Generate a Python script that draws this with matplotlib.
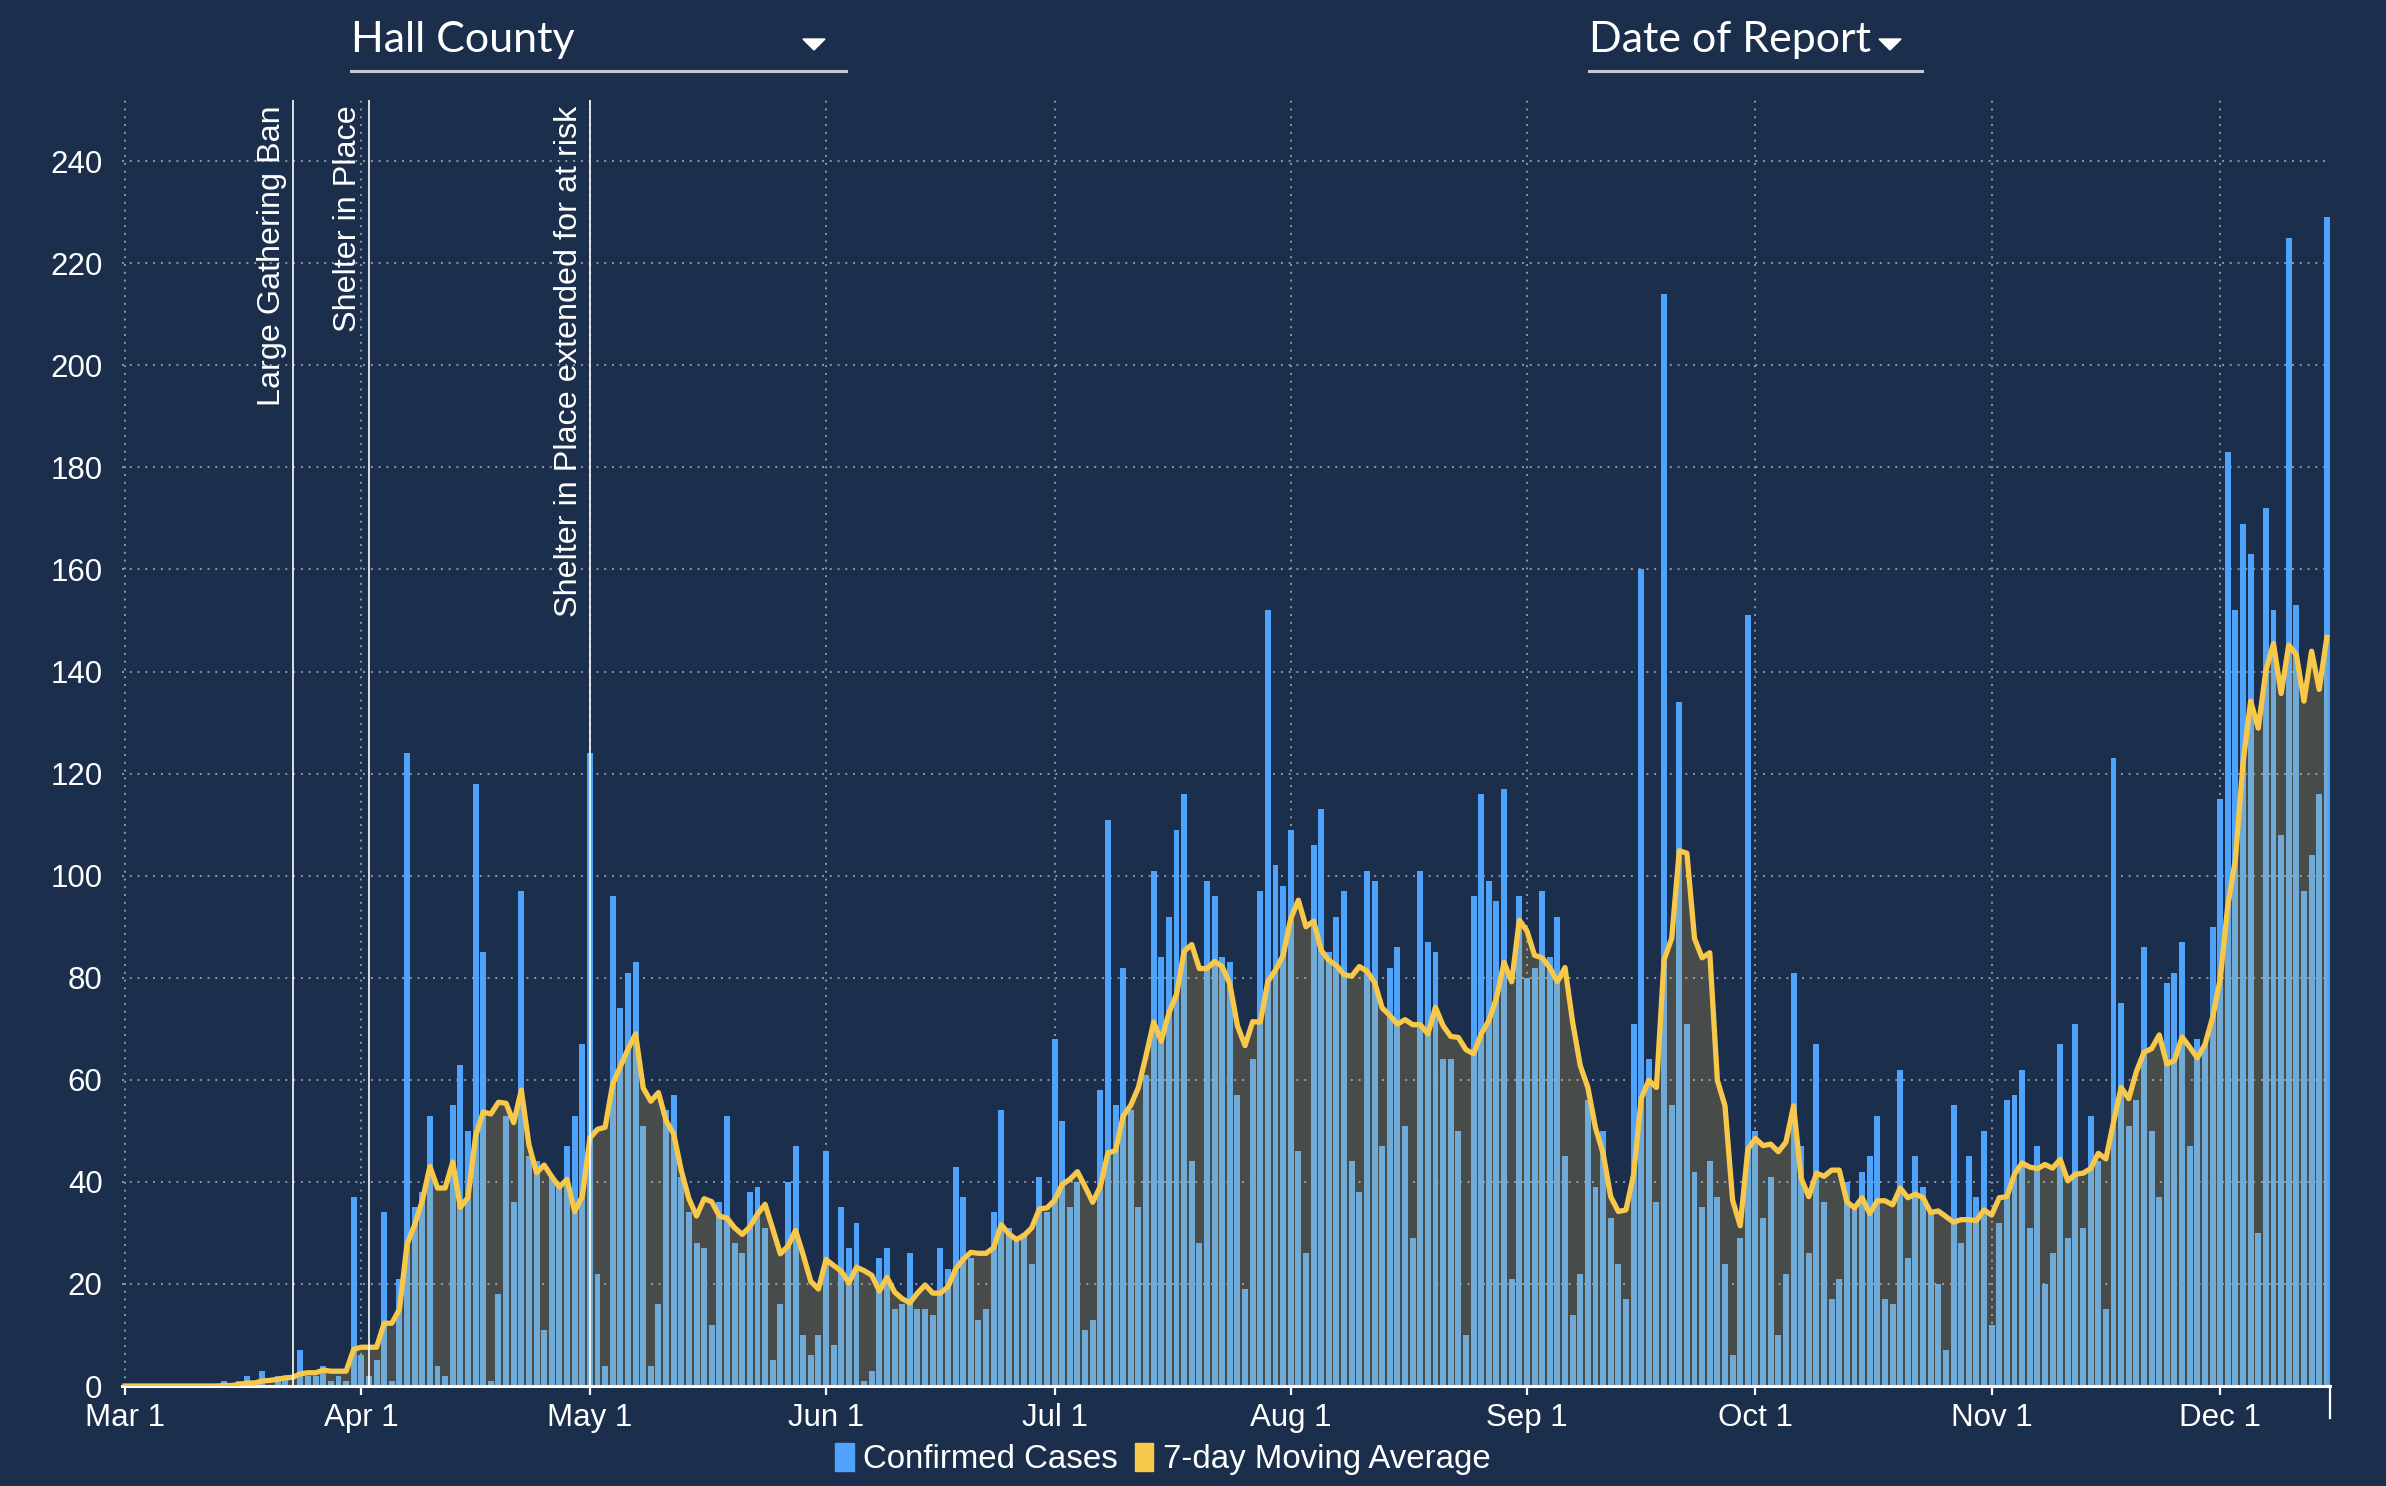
import numpy as np
import pandas as pd
import matplotlib
matplotlib.use("Agg")
import matplotlib.pyplot as plt
import matplotlib.dates as mdates
from matplotlib.patches import Patch, Polygon
from matplotlib.lines import Line2D

# daily confirmed cases, Mar 1 .. Dec 15
cases = [
    0, 0, 0, 0, 0, 0, 0, 0, 0, 0,
    0, 0, 0, 1, 0, 1, 2, 0, 3, 0,
    2, 2, 0, 7, 2, 2, 4, 1, 2, 1,
    37, 6, 2, 5, 34, 1, 21, 124, 35, 38,
    53, 4, 2, 55, 63, 50, 118, 85, 1, 18,
    53, 36, 97, 45, 44, 11, 41, 39, 47, 53,
    67, 124, 22, 4, 96, 74, 81, 83, 51, 4,
    16, 54, 57, 41, 34, 28, 27, 12, 36, 53,
    28, 26, 38, 39, 31, 5, 16, 40, 47, 10,
    6, 10, 46, 8, 35, 27, 32, 1, 3, 25,
    27, 15, 16, 26, 15, 15, 14, 27, 23, 43,
    37, 25, 13, 15, 34, 54, 31, 29, 30, 24,
    41, 34, 68, 52, 35, 40, 11, 13, 58, 111,
    55, 82, 54, 35, 61, 101, 84, 92, 109, 116,
    44, 28, 99, 96, 84, 83, 57, 19, 64, 97,
    152, 102, 98, 109, 46, 26, 106, 113, 85, 92,
    97, 44, 38, 101, 99, 47, 82, 86, 51, 29,
    101, 87, 85, 64, 64, 50, 10, 96, 116, 99,
    95, 117, 21, 96, 80, 82, 97, 84, 92, 45,
    14, 22, 56, 39, 50, 33, 24, 17, 71, 160,
    64, 36, 214, 55, 134, 71, 42, 35, 44, 37,
    24, 6, 29, 151, 50, 33, 41, 10, 22, 81,
    47, 26, 67, 36, 17, 21, 40, 35, 42, 45,
    53, 17, 16, 62, 25, 45, 39, 34, 20, 7,
    55, 28, 45, 37, 50, 12, 32, 56, 57, 62,
    31, 47, 20, 26, 67, 29, 71, 31, 53, 44,
    15, 123, 75, 51, 56, 86, 50, 37, 79, 81,
    87, 47, 68, 67, 90, 115, 183, 152, 169, 163,
    30, 172, 152, 108, 225, 153, 97, 104, 116, 229,
]

# 7-day moving average
moving_avg = [
    0, 0, 0, 0, 0, 0, 0, 0, 0, 0,
    0, 0, 0, 0.1, 0.1, 0.3, 0.6, 0.6, 1.0, 1.1,
    1.3, 1.6, 1.7, 2.4, 2.6, 2.6, 3.1, 2.9, 2.9, 2.9,
    7.2, 7.6, 7.6, 7.6, 12.3, 12.3, 15.0, 27.8, 31.6, 36.3,
    43, 38.8, 38.8, 43.9, 35, 37, 49, 53.7, 53.3, 55.6,
    55.4, 51.6, 58, 47.3, 41.8, 43.3, 41, 39, 40.5, 34.2,
    37.1, 48.6, 50.3, 50.7, 59.2, 62.6, 66, 69, 58.4, 55.8,
    57.5, 52, 49.4, 42.2, 36.7, 33.3, 36.7, 36.1, 33.3, 32.9,
    31, 29.7, 31.2, 33.7, 35.6, 30.8, 25.9, 27.4, 30.5, 25.7,
    20.5, 19, 24.8, 23.6, 22.5, 20.2, 23.3, 22.6, 21.7, 18.6,
    21.3, 18.4, 17.1, 16.3, 18.2, 19.8, 18.2, 18.2, 19.4, 22.9,
    24.8, 26.2, 26, 26, 27.1, 31.6, 29.8, 28.7, 29.5, 31,
    34.7, 34.9, 36.4, 39.5, 40.5, 42, 39.1, 36, 39.1, 45.7,
    46.1, 52.9, 55, 58.5, 64.7, 71.3, 67.6, 73.1, 76.7, 85.2,
    86.5, 81.8, 81.8, 83.2, 82.2, 78.8, 70.6, 66.7, 71.4, 71.3,
    79.3, 81.5, 84.4, 91.6, 95.2, 90, 91.1, 85.4, 83.4, 82.4,
    80.6, 80.3, 82.2, 81.3, 79.1, 74.1, 72.6, 70.9, 71.8, 70.8,
    70.8, 69, 74.2, 70.6, 68.5, 68.3, 65.9, 65.1, 69, 71.6,
    76, 83, 79.2, 91.3, 89.2, 84.4, 83.9, 82, 79.2, 82,
    71.3, 62.8, 58.5, 50.6, 45.6, 37.1, 34.2, 34.5, 41.4, 56.3,
    59.9, 58.5, 83.5, 87.7, 104.9, 104.4, 87.7, 83.9, 84.9, 59.9,
    54.9, 36.4, 31.4, 46.4, 48.5, 47.1, 47.4, 45.9, 47.8, 54.9,
    40.7, 37.1, 41.7, 41.1, 42.3, 42.3, 36.1, 34.9, 36.9, 33.8,
    36.3, 36.3, 35.5, 38.8, 36.9, 37.6, 36.9, 34, 34.3, 33.2,
    32.1, 32.6, 32.6, 32.4, 34.5, 33.5, 36.9, 37.1, 41.5, 43.7,
    42.9, 42.6, 43.4, 42.7, 44.4, 40.2, 41.5, 41.7, 42.6, 45.6,
    44.5, 51.7, 58.5, 56.3, 61.6, 65.4, 66.1, 68.8, 63.1, 63.8,
    68.4, 66.4, 64.3, 66.9, 72.2, 79.7, 94.1, 103.2, 122.1, 134.2,
    128.9, 140.2, 145.5, 135.7, 145.2, 143.3, 134.2, 144, 136.5, 146.7,
]

start_date = "2020-03-01"
events = ["2020-03-23", "2020-04-02", "2020-05-01"]
event_labels = ["Large Gathering Ban", "Shelter in Place",
                "Shelter in Place extended for at risk"]
yticks = list(range(0, 241, 20))

BG = "#1b2e4c"
BLUE = "#4fa3fa"
YELLOW = "#f8c84a"
GRID = "#8d97a6"
FONT = ["Liberation Sans", "DejaVu Sans"]

dates = pd.date_range(start_date, periods=len(cases), freq="D")

fig = plt.figure(figsize=(23.86, 14.86), dpi=100, facecolor=BG)
ax = fig.add_axes([122 / 2386, 1 - 1386 / 1486, (2330 - 122) / 2386, (1386 - 100) / 1486])
ax.set_facecolor(BG)

ax.bar(dates, cases, width=0.78, color=BLUE, zorder=2)
ax.fill_between(dates, 0, moving_avg, color=YELLOW, alpha=0.2, linewidth=0, zorder=3)
ax.plot(dates, moving_avg, color=YELLOW, lw=3.8, solid_joinstyle="round", zorder=4)

for d, lab in zip(events, event_labels):
    dt = pd.Timestamp(d)
    ax.axvline(dt, color="white", lw=1.2, zorder=5)
    ax.annotate(lab, xy=(dt, 1), xycoords=("data", "axes fraction"),
                xytext=(-4, -4), textcoords="offset points",
                rotation=90, ha="right", va="top", color="white",
                fontsize=23.3, family=FONT, zorder=6)

ax.set_xlim(dates[0] - pd.Timedelta(hours=10), dates[-1] + pd.Timedelta(hours=10))
ax.set_ylim(0, 252)
ax.set_yticks(yticks)
ax.xaxis.set_major_locator(mdates.MonthLocator())
ax.xaxis.set_major_formatter(mdates.DateFormatter("%b 1"))

ax.set_axisbelow(True)
ax.grid(True, color=GRID, linestyle=(0, (1, 3)), lw=1.4)

for s in ["top", "right", "left"]:
    ax.spines[s].set_visible(False)
ax.spines["bottom"].set_color("white")
ax.spines["bottom"].set_linewidth(2.2)

ax.tick_params(axis="y", length=0, pad=14, labelcolor="white", labelsize=22.5)
ax.tick_params(axis="x", length=6.5, width=1.6, color="white", pad=6,
               labelcolor="white", labelsize=22.5)
for lab in ax.get_xticklabels() + ax.get_yticklabels():
    lab.set_family(FONT)

# end tick of the x axis
ax.plot([1, 1], [0, -0.025], transform=ax.transAxes, color="white",
        lw=1.6, clip_on=False)

handles = [Patch(color=BLUE), Patch(color=YELLOW)]
leg = fig.legend(handles, ["Confirmed Cases", "7-day Moving Average"],
                 loc="center", bbox_to_anchor=(1163 / 2386, 1 - 1459 / 1486),
                 ncol=2, frameon=False, handlelength=0.55, handleheight=0.95,
                 handletextpad=0.3, columnspacing=0.5,
                 prop={"family": FONT, "size": 23.8})
for t in leg.get_texts():
    t.set_color("white")

# dropdown header
W, H = 2386, 1486


def fx(px):
    return px / W


def fy(py):
    return 1 - py / H


for txt, x0, x1, tri in [("Hall County", 351, 846, 814), ("Date of Report", 1589, 1922, 1890)]:
    fig.text(fx(x0), fy(40), txt, color="white", fontsize=31, family=["Lato", "DejaVu Sans"],
             ha="left", va="center")
    fig.add_artist(Line2D([fx(x0), fx(x1)], [fy(71), fy(71)], color="#c5cad2", lw=2.2))
    fig.add_artist(Polygon([[fx(tri - 11), fy(39)], [fx(tri + 11), fy(39)], [fx(tri), fy(50)]],
                           closed=True, color="white", transform=fig.transFigure))

fig.savefig("out.png", dpi=100, facecolor=BG)
